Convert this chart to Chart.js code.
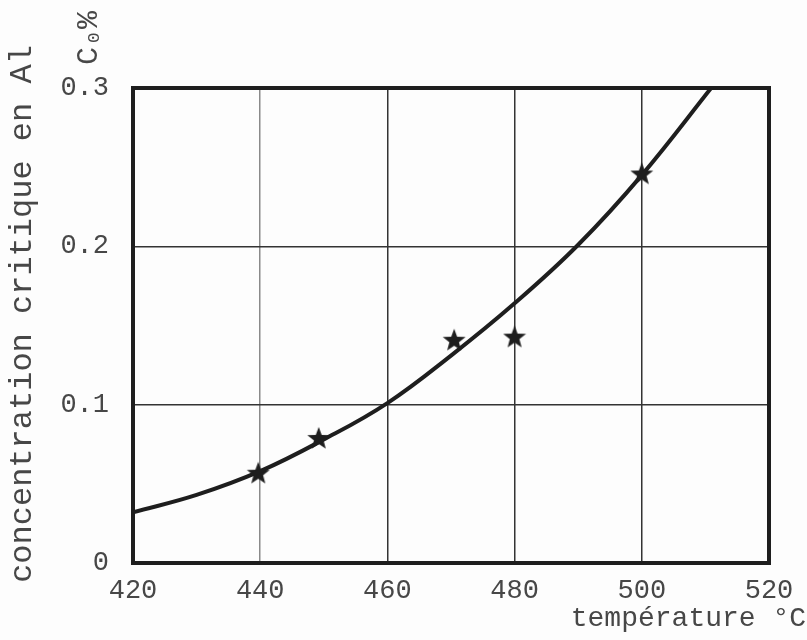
<!DOCTYPE html>
<html lang="fr">
<head>
  <meta charset="UTF-8" />
  <title>Concentration critique en Al</title>
  <script src="https://cdn.jsdelivr.net/npm/chart.js"></script>
  <style>
    body { margin: 0; background: #fdfdfd; }
    #wrap { width: 807px; height: 640px; }
  </style>
</head>
<body>
  <div id="wrap"><canvas id="graphe"></canvas></div>

  <script>
    // courbe
    const tempCourbe = [420, 430, 440, 450, 460, 470, 480, 490, 500, 511.3];
    const concCourbe = [0.032, 0.043, 0.058, 0.078, 0.101, 0.131, 0.164, 0.201, 0.245, 0.302];

    // points mesurés (étoiles)
    const tempMesure = [439.7, 449.2, 470.5, 480, 500];
    const concMesure = [0.057, 0.079, 0.141, 0.143, 0.246];

    const ticksX = [420, 440, 460, 480, 500, 520];
    const ticksY = [0, 0.1, 0.2, 0.3];

    const police = "'Liberation Mono', 'DejaVu Sans Mono', monospace";
    const encre = '#1e1e1e';
    const gris = '#474747';

    // étoile pleine pour les points
    function etoile(taille) {
      const c = document.createElement('canvas');
      c.width = taille; c.height = taille;
      const g = c.getContext('2d');
      const r = taille / 2, ri = r * 0.42;
      g.beginPath();
      for (let i = 0; i < 10; i++) {
        const rr = i % 2 ? ri : r;
        const a = -Math.PI / 2 + i * Math.PI / 5;
        g.lineTo(r + rr * Math.cos(a), r + rr * Math.sin(a) + 1);
      }
      g.closePath();
      g.fillStyle = encre;
      g.fill();
      return c;
    }

    const textes = {
      id: 'textes',
      beforeDatasetsDraw(chart) {
        const { ctx, chartArea: a } = chart;
        ctx.save();
        ctx.strokeStyle = encre;
        ctx.lineWidth = 4;
        ctx.strokeRect(a.left, a.top, a.right - a.left, a.bottom - a.top);
        ctx.restore();
      },
      afterDraw(chart) {
        const ctx = chart.ctx;
        ctx.save();
        ctx.fillStyle = gris;
        ctx.textBaseline = 'middle';

        ctx.font = '28px ' + police;
        ctx.textAlign = 'right';
        ctx.fillText('température °C', 806, 619);

        ctx.translate(23, 314);
        ctx.rotate(-Math.PI / 2);
        ctx.textAlign = 'center';
        ctx.font = '32px ' + police;
        ctx.fillText('concentration critique en Al', 0, 0);
        ctx.restore();

        ctx.save();
        ctx.fillStyle = gris;
        ctx.translate(89, 38);
        ctx.rotate(-Math.PI / 2);
        ctx.textAlign = 'center';
        ctx.textBaseline = 'middle';
        ctx.font = '30px ' + police;
        ctx.fillText('C₀%', 0, 0);
        ctx.restore();
      }
    };

    new Chart(document.getElementById('graphe'), {
      type: 'scatter',
      data: {
        datasets: [
          {
            data: tempCourbe.map((t, i) => ({ x: t, y: concCourbe[i] })),
            showLine: true,
            borderColor: encre,
            borderWidth: 4,
            pointRadius: 0,
            tension: 0.4
          },
          {
            data: tempMesure.map((t, i) => ({ x: t, y: concMesure[i] })),
            showLine: false,
            pointStyle: etoile(24),
            pointRadius: 12
          }
        ]
      },
      options: {
        responsive: true,
        maintainAspectRatio: false,
        animation: false,
        layout: { padding: { left: 0, top: 88, right: 38, bottom: 0 } },
        plugins: { legend: { display: false }, tooltip: { enabled: false } },
        scales: {
          x: {
            type: 'linear',
            min: 420, max: 520,
            afterBuildTicks: s => { s.ticks = ticksX.map(v => ({ value: v })); },
            afterFit: s => { s.height = 77; },
            grid: {
              drawTicks: false,
              color: ctx => ctx.tick && ctx.tick.value === 440 ? '#8a8a8a' : '#333',
              lineWidth: 1.5
            },
            border: { display: false },
            ticks: { color: gris, padding: 12, font: { family: police, size: 27 } }
          },
          y: {
            min: 0, max: 0.3,
            afterBuildTicks: s => { s.ticks = ticksY.map(v => ({ value: v })); },
            afterFit: s => { s.width = 133; },
            grid: { drawTicks: false, color: '#333', lineWidth: 1.5 },
            border: { display: false },
            ticks: {
              color: gris, padding: 24,
              font: { family: police, size: 27 },
              callback: v => v === 0 ? '0' : v.toFixed(1)
            }
          }
        }
      },
      plugins: [textes]
    });
  </script>
</body>
</html>
